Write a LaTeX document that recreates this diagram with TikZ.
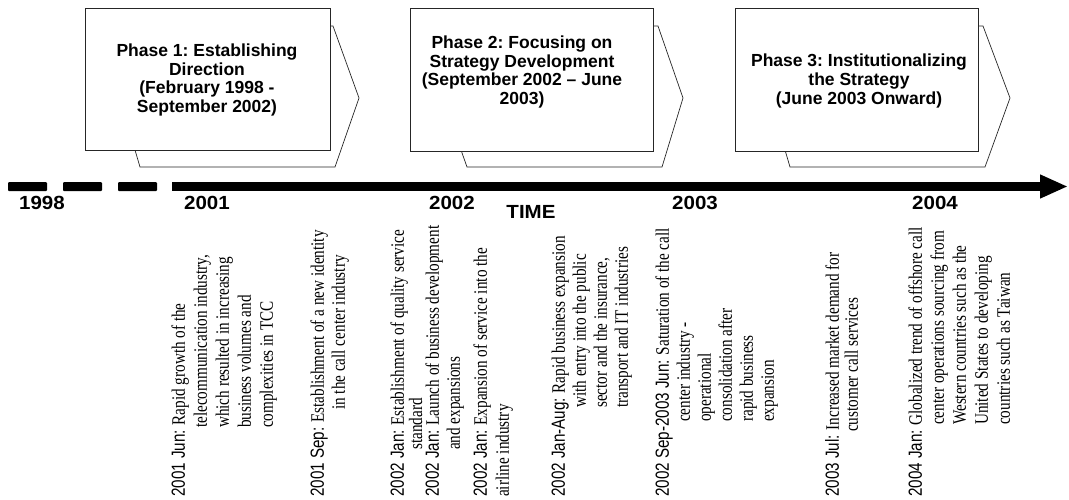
\documentclass[tikz,border=0pt]{standalone}
\usepackage{fontspec}
\setmainfont{Liberation Serif}
\newfontfamily\evsans[FakeStretch=0.8]{Liberation Sans}
\newfontfamily\evserif[FakeStretch=0.8]{Liberation Serif}
\newfontfamily\hdsans{Liberation Sans}
\newfontfamily\yrsans[FakeStretch=1.08]{Liberation Sans}
\usetikzlibrary{arrows.meta}
\frenchspacing
\newcommand\evtext[4]{\vtop{\hsize=420pt\fontsize{19}{#1}\selectfont\hangindent=#2pt\hangafter=1\noindent{\evsans #3}\ {\evserif #4}\par}}
\tikzset{
  evnode/.style={rotate=90, anchor=base west, inner sep=0pt},
  yearlbl/.style={font=\yrsans\bfseries\fontsize{19}{19}\selectfont, inner sep=0pt},
  phasetxt/.style={font=\hdsans\bfseries\fontsize{17.5}{18.7}\selectfont, align=center, inner sep=0pt},
  phasebox/.style={draw=black!85, line width=0.7pt, fill=white},
  barline/.style={line width=9pt, black},
}
\begin{document}
\begin{tikzpicture}[x=1pt,y=-1pt]
\useasboundingbox (0,0) rectangle (1069,499);
% phase 1
\draw[phasebox] (130,26) -- (333,26) -- (359,98) -- (335,167) -- (140,167) -- (130,133) -- cycle;
\draw[phasebox] (85,8) rectangle (330,150);
\node[phasetxt] (p1) at (207,80) {Phase 1: Establishing\\Direction\\(February 1998 -\\September 2002)};
% phase 2
\draw[phasebox] (455,26) -- (658,26) -- (683,98) -- (662,167) -- (467,167) -- (455,133) -- cycle;
\draw[phasebox] (410,8) rectangle (653,151);
\node[phasetxt] (p2) at (522,72) {Phase 2: Focusing on\\Strategy Development\\(September 2002 – June\\2003)};
% phase 3
\draw[phasebox] (780,26) -- (983,26) -- (1010,98) -- (985,167) -- (790,167) -- (780,133) -- cycle;
\draw[phasebox] (735,8) rectangle (978,151);
\node[phasetxt] (p3) at (859,81) {Phase 3: Institutionalizing\\the Strategy\\(June 2003 Onward)};
% timeline
\fill[rounded corners=1pt] (8,182) rectangle (47,191);
\fill[rounded corners=1pt] (63,182) rectangle (102,191);
\fill[rounded corners=1pt] (118,182) rectangle (157,191);
\coordinate (tstart) at (172,186.5);
\coordinate (tend) at (1068,186.5);
\draw[barline, -{Triangle[length=28pt,width=22pt]}] (tstart) -- (tend);
% years
\node[yearlbl] (y1998) at (42,203) {1998};
\node[yearlbl] (y2001) at (207,203) {2001};
\node[yearlbl] (y2002) at (452,203) {2002};
\node[yearlbl] (ytime) at (531,212) {TIME};
\node[yearlbl] (y2003) at (695,203) {2003};
\node[yearlbl] (y2004) at (935,203) {2004};
% events
\node[evnode] (e1) at (184.8,497) {\evtext{22}{69}{2001 Jun:}{Rapid growth of the\newline telecommunication industry,\newline which resulted in increasing\newline business volumes and\newline complexities in TCC}};
\node[evnode] (e2) at (323.8,497) {\evtext{21}{87}{2001 Sep:}{Establishment of a new identity\newline in the call center industry}};
\node[evnode] (e3) at (403.8,497) {\evtext{17}{47}{2002 Jan:}{Establishment of quality service\newline standard}};
\node[evnode] (e4) at (438.8,497) {\evtext{21}{47}{2002 Jan:}{Launch of business development\newline and expansions}};
\node[evnode] (e5) at (486.8,497) {\evtext{22}{0}{2002 Jan:}{Expansion of service into the\newline airline industry}};
\node[evnode] (e6) at (564.8,497) {\evtext{21}{89}{2002 Jan-Aug:}{Rapid business expansion\newline with entry into the public\newline sector and the insurance,\newline transport and IT industries}};
\node[evnode] (e7) at (668.8,497) {\evtext{21}{75}{2002 Sep-2003 Jun:}{Saturation of the call\newline center industry -\newline operational\newline consolidation after\newline rapid business\newline expansion}};
\node[evnode] (e8) at (838.8,497) {\evtext{19}{65}{2003 Jul:}{Increased market demand for\newline customer call services}};
\node[evnode] (e9) at (921.8,497) {\evtext{22}{72}{2004 Jan:}{Globalized trend of offshore call\newline center operations sourcing from\newline Western countries such as the\newline United States to developing\newline countries such as Taiwan}};
\end{tikzpicture}
\end{document}
